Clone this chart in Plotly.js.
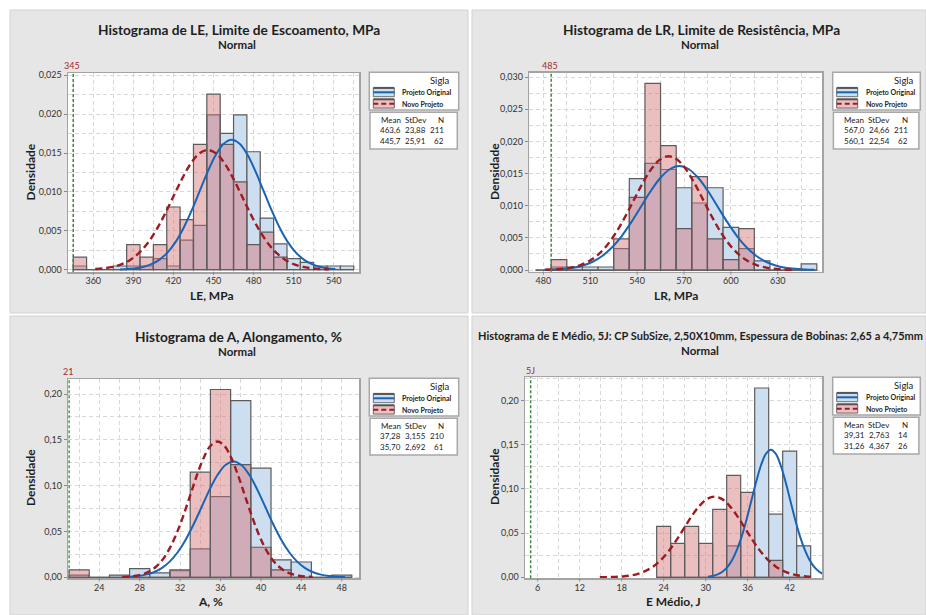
<!DOCTYPE html>
<html><head><meta charset="utf-8">
<script src="https://cdn.plot.ly/plotly-3.0.1.min.js"></script>
<style>html,body{margin:0;padding:0;background:#fff;}#chart{width:926px;height:615px;}</style>
</head><body><div id="chart"></div>
<script>
// ================= DATA =================
// Panel 1: LE, Limite de Escoamento, MPa (bin width 10)
const leBins = [350,360,370,380,390,400,410,420,430,440,450,460,470,480,490,500,510,520,530,540,550];
const leOrig = [0.00047,0,0,0.00047,0.00047,0.00047,0.00142,0.00047,0.00379,0.00569,0.01991,0.01754,0.01991,0.01517,0.00664,0.00332,0.00142,0.00095,0.00047,0.00047,0.00047];
const leNovo = [0.00161,0,0,0,0.00323,0.00161,0.00323,0.00806,0.00645,0.01613,0.02258,0.01613,0.01129,0.00323,0.00484,0.00161,0,0,0,0,0];
const leOrigCurveX = [380.02,385.99,391.96,397.93,403.90,409.87,415.84,421.81,427.78,433.75,439.72,445.69,451.66,457.63,463.60,469.57,475.54,481.51,487.48,493.45,499.42,505.39,511.36,517.33,523.30,529.27,535.24,541.21];
const leOrigCurveY = [0.0000365,0.000085,0.000186,0.000381,0.000734,0.001329,0.002261,0.003613,0.005424,0.007648,0.010133,0.012610,0.014743,0.016192,0.016706,0.016192,0.014743,0.012610,0.010133,0.007648,0.005424,0.003613,0.002261,0.001329,0.000734,0.000381,0.000186,0.000085];
const leNovoCurveX = [361.49,367.97,374.45,380.93,387.40,393.88,400.36,406.84,413.31,419.79,426.27,432.75,439.22,445.70,452.18,458.66,465.13,471.61,478.09,484.57,491.04,497.52,504.00,510.48,516.95,523.43,529.91,536.39];
const leNovoCurveY = [0.0000783,0.000171,0.000351,0.000677,0.001225,0.002084,0.003330,0.004999,0.007049,0.009339,0.011622,0.013588,0.014923,0.015397,0.014923,0.013588,0.011622,0.009339,0.007049,0.004999,0.003330,0.002084,0.001225,0.000677,0.000351,0.000171,0.0000783,0.0000337];
const leRef = 345;
const leStats = [["463,6","23,88","211"],["445,7","25,91","62"]];

// Panel 2: LR, Limite de Resistência, MPa (bin width 10)
const lrBins = [480,490,500,510,520,530,540,550,560,570,580,590,600,610,620,630,640,650];
const lrOrig = [0,0.00047,0.00047,0.00047,0.00047,0.00332,0.01422,0.01659,0.01564,0.01280,0.01043,0.01280,0.00664,0.00332,0.00142,0,0,0.00095];
const lrNovo = [0,0.00161,0,0,0,0.00484,0.01129,0.02903,0.01935,0.00645,0.01452,0.00484,0.00161,0.00645,0,0,0,0];
const lrOrigCurveX = [480.69,486.86,493.02,499.19,505.35,511.52,517.68,523.85,530.01,536.18,542.34,548.51,554.67,560.84,567.00,573.17,579.33,585.50,591.66,597.83,603.99,610.16,616.32,622.49,628.65,634.82,640.98,647.15,653.31];
const lrOrigCurveY = [0.0000354,0.0000823,0.000180,0.000369,0.000711,0.001287,0.002190,0.003499,0.005252,0.007407,0.009812,0.012212,0.014277,0.015680,0.016178,0.015680,0.014277,0.012212,0.009812,0.007407,0.005252,0.003499,0.002190,0.001287,0.000711,0.000369,0.000180,0.0000823,0.0000354];
const lrNovoCurveX = [481.21,486.85,492.48,498.12,503.75,509.39,515.02,520.66,526.29,531.93,537.56,543.20,548.83,554.47,560.10,565.74,571.37,577.01,582.64,588.28,593.91,599.55,605.18,610.82,616.45,622.09,627.72,633.36,638.99];
const lrNovoCurveY = [0.0000387,0.0000900,0.000197,0.000403,0.000778,0.001408,0.002395,0.003828,0.005746,0.008103,0.010735,0.013360,0.015619,0.017154,0.017699,0.017154,0.015619,0.013360,0.010735,0.008103,0.005746,0.003828,0.002395,0.001408,0.000778,0.000403,0.000197,0.0000900,0.0000387];
const lrRef = 485;
const lrStats = [["567,0","24,66","211"],["560,1","22,54","62"]];

// Panel 3: A, Alongamento, % (bin width 2)
const aBins = [22,24,26,28,30,32,34,36,38,40,42,44,46,48];
const aOrig = [0.00238,0,0.00238,0.00952,0.00476,0.00714,0.03095,0.08810,0.19286,0.11905,0.01905,0.01667,0,0.00238];
const aNovo = [0.00820,0,0,0,0,0.00820,0.11475,0.20492,0.12295,0.03279,0.00820,0,0,0];
const aOrigCurveX = [26.24,27.03,27.82,28.60,29.39,30.18,30.97,31.76,32.55,33.34,34.13,34.91,35.70,36.49,37.28,38.07,38.86,39.65,40.44,41.22,42.01,42.80,43.59,44.38,45.17,45.96,46.75,47.53,48.32];
const aOrigCurveY = [0.000277,0.000643,0.001405,0.002882,0.005556,0.01006,0.01711,0.02735,0.04105,0.05789,0.07670,0.09545,0.11159,0.12256,0.12645,0.12256,0.11159,0.09545,0.07670,0.05789,0.04105,0.02735,0.01711,0.01006,0.005556,0.002882,0.001405,0.000643,0.000277];
const aNovoCurveX = [26.28,26.95,27.62,28.30,28.97,29.64,30.32,30.99,31.66,32.34,33.01,33.68,34.35,35.03,35.70,36.37,37.05,37.72,38.39,39.07,39.74,40.41,41.08,41.76,42.43,43.10,43.78,44.45,45.12];
const aNovoCurveY = [0.000324,0.000754,0.001647,0.003377,0.006512,0.01179,0.02006,0.03205,0.04811,0.06785,0.08989,0.11187,0.13079,0.14364,0.14820,0.14364,0.13079,0.11187,0.08989,0.06785,0.04811,0.03205,0.02006,0.01179,0.006512,0.003377,0.001647,0.000754,0.000324];
const aRef = 21;
const aStats = [["37,28","3,155","210"],["35,70","2,692","61"]];

// Panel 4: E Médio, J (bin width 2)
const eBins = [24,26,28,30,32,34,36,38,40,42,44];
const eOrig = [0,0,0,0,0,0.03571,0,0.21429,0.07143,0.14286,0.03571];
const eNovo = [0.05769,0.03846,0.05769,0.03846,0.07692,0.11538,0.09615,0,0.01923,0,0];
const eOrigCurveX = [30.33,31.02,31.71,32.40,33.09,33.78,34.47,35.17,35.86,36.55,37.24,37.93,38.62,39.31,40.00,40.69,41.38,42.07,42.76,43.45,44.15,44.84,45.53,46.22,46.91];
const eOrigCurveY = [0.000734,0.001604,0.003291,0.006344,0.01149,0.01954,0.03123,0.04688,0.06611,0.08758,0.10899,0.12742,0.13995,0.14439,0.13995,0.12742,0.10899,0.08758,0.06611,0.04688,0.03123,0.01954,0.01149,0.006344,0.003291];
const eNovoCurveX = [14.88,15.98,17.07,18.16,19.25,20.34,21.43,22.53,23.62,24.71,25.80,26.89,27.98,29.08,30.17,31.26,32.35,33.44,34.54,35.63,36.72,37.81,38.90,39.99,41.09,42.18,43.27,44.36,45.45];
const eNovoCurveY = [0.0000808,0.000200,0.000465,0.001015,0.002082,0.004014,0.007268,0.01236,0.01976,0.02966,0.04182,0.05541,0.06896,0.08062,0.08854,0.09135,0.08854,0.08062,0.06896,0.05541,0.04182,0.02966,0.01976,0.01236,0.007268,0.004014,0.002082,0.001015,0.000465];
const eRef = 5;
const eStats = [["39,31","2,763","14"],["31,26","4,367","26"]];

const seriesNames = ["Projeto Original","Novo Projeto"];
const statHeaders = ["Mean","StDev","N"];

// ================= LAYOUT / STYLE =================
const W = 926, H = 615;
const F = 'Lato, "Open Sans", sans-serif';
const BLUE_FILL = '#cddef0', PINK_FILL = 'rgba(212,114,118,0.46)';
const BLUE_LINE = '#1a64b4', RED_LINE = '#9e1c20';
const annotations = [], shapes = [];
const px = x => x / W, py = y => 1 - y / H;
function A(text, x, y, o) {
  annotations.push(Object.assign({text, x: px(x), y: py(y), xref: 'paper', yref: 'paper', showarrow: false,
    xanchor: 'center', yanchor: 'middle', font: {family: F, size: 10, color: '#222'}}, o || {}));
}
function R(x0, y0, x1, y1, o) {
  shapes.push(Object.assign({type: 'rect', xref: 'paper', yref: 'paper', x0: px(x0), x1: px(x1), y0: py(y1), y1: py(y0)}, o || {}));
}
function Ln(x0, y0, x1, y1, o) {
  shapes.push(Object.assign({type: 'line', xref: 'paper', yref: 'paper', x0: px(x0), x1: px(x1), y0: py(y0), y1: py(y1)}, o || {}));
}

const panels = [
  {bg:[10,10,468,313], plot:[68,359,73,272], xr:[341.1,558.9], yr:[-0.0003,0.0253], dx:30, mdx:15, dy:0.005, mdy:0.0025, yfmt:'.3f',
   bins:leBins, w:10, orig:leOrig, novo:leNovo, cox:leOrigCurveX, coy:leOrigCurveY, cnx:leNovoCurveX, cny:leNovoCurveY, ref:leRef, refLabel:'345', stats:leStats,
   title:'Histograma de LE, Limite de Escoamento, MPa', tsize:13.7, tpos:[239.2,29.3], npos:[237.3,45], ylab:[30.7,171.7], xlab:'LE, MPa', xlpos:[212.3,295], rpos:[72.3,65.7], L:369.3, T:72.3, lw:89.4},
  {bg:[472,10,926,313], plot:[529.3,822.3,72.7,271.7], xr:[471.0,658.5], yr:[-0.00026,0.0307], dx:30, mdx:15, dy:0.005, mdy:0.0025, yfmt:'.3f',
   bins:lrBins, w:10, orig:lrOrig, novo:lrNovo, cox:lrOrigCurveX, coy:lrOrigCurveY, cnx:lrNovoCurveX, cny:lrNovoCurveY, ref:lrRef, refLabel:'485', stats:lrStats,
   title:'Histograma de LR, Limite de Resistência, MPa', tsize:13.7, tpos:[701.7,29.3], npos:[700,45], ylab:[494.3,171.7], xlab:'LR, MPa', xlpos:[675.7,295], rpos:[550,65.7], L:832.7, T:72.3, lw:87.6},
  {bg:[10,316,468,615], plot:[68.3,359.3,379,578.3], xr:[20.93,49.74], yr:[-0.0011,0.2164], dx:4, mdx:2, dy:0.05, mdy:0.025, yfmt:'.2f',
   bins:aBins, w:2, orig:aOrig, novo:aNovo, cox:aOrigCurveX, coy:aOrigCurveY, cnx:aNovoCurveX, cny:aNovoCurveY, ref:aRef, refLabel:'21', stats:aStats,
   title:'Histograma de A, Alongamento, %', tsize:13.7, tpos:[238.7,336.7], npos:[237.3,351.7], ylab:[30.7,477.3], xlab:'A, %', xlpos:[210.7,601], rpos:[68.3,371.7], L:369.3, T:378.3, lw:89.4},
  {bg:[472,316,926,615], plot:[525,822.3,377.3,578.3], xr:[4.19,46.66], yr:[-0.0011,0.2264], dx:6, mdx:3, dy:0.05, mdy:0.025, yfmt:'.2f',
   bins:eBins, w:2, orig:eOrig, novo:eNovo, cox:eOrigCurveX, coy:eOrigCurveY, cnx:eNovoCurveX, cny:eNovoCurveY, ref:eRef, refLabel:'5J', stats:eStats,
   title:'Histograma de E Médio, 5J: CP SubSize, 2,50X10mm, Espessura de Bobinas: 2,65 a 4,75mm', tsize:11, tright:925, tpos:[701,335], npos:[700,350], ylab:[494.3,476.7], xlab:'E Médio, J', xlpos:[673.3,601], rpos:[530.7,370], L:832.7, T:377.3, lw:87.6}
];

const data = [];
const layout = {
  width: W, height: H, margin: {l: 0, r: 0, t: 0, b: 0},
  paper_bgcolor: '#ffffff', plot_bgcolor: 'rgba(0,0,0,0)',
  separators: ',.', barmode: 'overlay', showlegend: false,
  font: {family: F, color: '#222'},
  annotations, shapes
};

panels.forEach((p, i) => {
  const s = i === 0 ? '' : String(i + 1);
  const xa = 'x' + s, ya = 'y' + s;
  R(p.bg[0], p.bg[1], p.bg[2], p.bg[3], {fillcolor: '#e6e6e6', line: {color: '#d2d2d2', width: 1}, layer: 'below'});
  R(p.plot[0], p.plot[2], p.plot[1], p.plot[3], {fillcolor: '#ffffff', line: {width: 0}, layer: 'below'});

  const gridStyle = {showgrid: true, gridcolor: '#d8d8d8', gridwidth: 1, griddash: '4px,3px'};
  layout['xaxis' + s] = Object.assign({
    domain: [px(p.plot[0]), px(p.plot[1])], range: p.xr, anchor: ya, tick0: 0, dtick: p.dx,
    ticks: '', tickfont: {family: F, size: 9, color: '#333'},
    showline: true, mirror: true, linecolor: '#a3a3a3', linewidth: 1.5, zeroline: false,
    minor: {dtick: p.mdx, tick0: 0, showgrid: true, gridcolor: '#d8d8d8', griddash: '4px,3px', ticks: ''}
  }, gridStyle);
  layout['yaxis' + s] = Object.assign({
    domain: [py(p.plot[3]), py(p.plot[2])], range: p.yr, anchor: xa, tick0: 0, dtick: p.dy, tickformat: p.yfmt,
    ticks: 'outside', ticklen: 3, tickcolor: '#8a8a8a', tickfont: {family: F, size: 9, color: '#333'},
    showline: true, mirror: true, linecolor: '#a3a3a3', linewidth: 1.5, zeroline: false,
    minor: {dtick: p.mdy, tick0: 0, showgrid: true, gridcolor: '#d8d8d8', griddash: '4px,3px', ticks: ''}
  }, gridStyle);

  // short outward x tick marks (drawn as shapes so the labels sit close to the axis)
  const plotH = p.plot[3] - p.plot[2];
  for (let v = Math.ceil(p.xr[0] / p.dx) * p.dx; v <= p.xr[1]; v += p.dx) {
    shapes.push({type: 'line', xref: xa, yref: ya + ' domain', x0: v, x1: v, y0: 0, y1: -3 / plotH,
      line: {color: '#8a8a8a', width: 1}});
  }

  data.push({type: 'bar', x: p.bins, y: p.orig, width: p.w, xaxis: xa, yaxis: ya, name: seriesNames[0],
    marker: {color: BLUE_FILL, line: {color: '#5c5c5c', width: 1.2}}, hoverinfo: 'skip'});
  data.push({type: 'bar', x: p.bins, y: p.novo, width: p.w, xaxis: xa, yaxis: ya, name: seriesNames[1],
    marker: {color: PINK_FILL, line: {color: '#5c5c5c', width: 1.2}}, hoverinfo: 'skip'});
  data.push({type: 'scatter', mode: 'lines', x: p.cox, y: p.coy, xaxis: xa, yaxis: ya, name: seriesNames[0],
    line: {color: BLUE_LINE, width: 2, shape: 'spline'}, hoverinfo: 'skip'});
  data.push({type: 'scatter', mode: 'lines', x: p.cnx, y: p.cny, xaxis: xa, yaxis: ya, name: seriesNames[1],
    line: {color: RED_LINE, width: 2.4, dash: '7px,4px', shape: 'spline'}, hoverinfo: 'skip'});

  shapes.push({type: 'line', xref: xa, yref: ya + ' domain', x0: p.ref, x1: p.ref, y0: 0, y1: 1,
    line: {color: '#3a8a3a', width: 1.5, dash: '3px,2px'}});
  A(p.refLabel, p.rpos[0], p.rpos[1], {font: {family: F, size: 9, color: '#a3282c'}});

  if (p.tright) {
    A(p.title, p.tright, p.tpos[1], {xanchor: 'right', font: {family: F, size: p.tsize, color: '#1e1e1e', weight: 'bold'}});
  } else {
    A(p.title, p.tpos[0], p.tpos[1], {font: {family: F, size: p.tsize, color: '#1e1e1e', weight: 'bold'}});
  }
  A('Normal', p.npos[0], p.npos[1], {font: {family: F, size: 11.5, color: '#1e1e1e', weight: 'bold'}});
  A('Densidade', p.ylab[0], p.ylab[1], {textangle: -90, font: {family: F, size: 12, color: '#1e1e1e', weight: 'bold'}});
  A(p.xlab, p.xlpos[0], p.xlpos[1], {font: {family: F, size: 12, color: '#1e1e1e', weight: 'bold'}});

  const L = p.L, T = p.T, Rr = p.L + p.lw;
  R(L, T, Rr, T + 37.7, {fillcolor: '#ffffff', line: {color: '#a8a8a8', width: 1.5}, layer: 'above'});
  A('Sigla', L + 71, T + 8.5, {font: {family: F, size: 9.5, color: '#222'}});
  R(L + 4, T + 15.6, L + 25, T + 24.4, {fillcolor: BLUE_FILL, line: {color: '#6a6a6a', width: 1}, layer: 'above'});
  Ln(L + 4, T + 15.6, L + 25, T + 15.6, {line: {color: '#555', width: 2}, layer: 'above'});
  Ln(L + 4, T + 20, L + 25, T + 20, {line: {color: BLUE_LINE, width: 2}, layer: 'above'});
  R(L + 4, T + 27, L + 25, T + 35.8, {fillcolor: '#ebc0c2', line: {color: '#6a6a6a', width: 1}, layer: 'above'});
  Ln(L + 4, T + 27, L + 25, T + 27, {line: {color: '#555', width: 2}, layer: 'above'});
  Ln(L + 4, T + 31.4, L + 25, T + 31.4, {line: {color: RED_LINE, width: 2, dash: '5px,3px'}, layer: 'above'});
  A(seriesNames[0], L + 31, T + 20, {xanchor: 'left', font: {family: F, size: 7, color: '#222', weight: 'bold'}});
  A(seriesNames[1], L + 31, T + 31.4, {xanchor: 'left', font: {family: F, size: 7, color: '#222', weight: 'bold'}});

  R(L + 0.7, T + 40, Rr - 1.4, T + 76.7, {fillcolor: '#ffffff', line: {color: '#a8a8a8', width: 1.5}, layer: 'above'});
  const cols = [L + 21.5, L + 46.5];
  const sf = {family: F, size: 8, color: '#222'};
  A(statHeaders[0], cols[0], T + 47.7, {font: sf});
  A(statHeaders[1], cols[1], T + 47.7, {font: sf});
  A(statHeaders[2], L + 77, T + 47.7, {xanchor: 'right', font: sf});
  p.stats.forEach((row, r) => {
    const yy = T + 57.7 + r * 11;
    A(row[0], cols[0], yy, {font: sf});
    A(row[1], cols[1], yy, {font: sf});
    A(row[2], L + 77, yy, {xanchor: 'right', font: sf});
  });
});

Plotly.newPlot('chart', data, layout, {staticPlot: true});
</script>
</body></html>
